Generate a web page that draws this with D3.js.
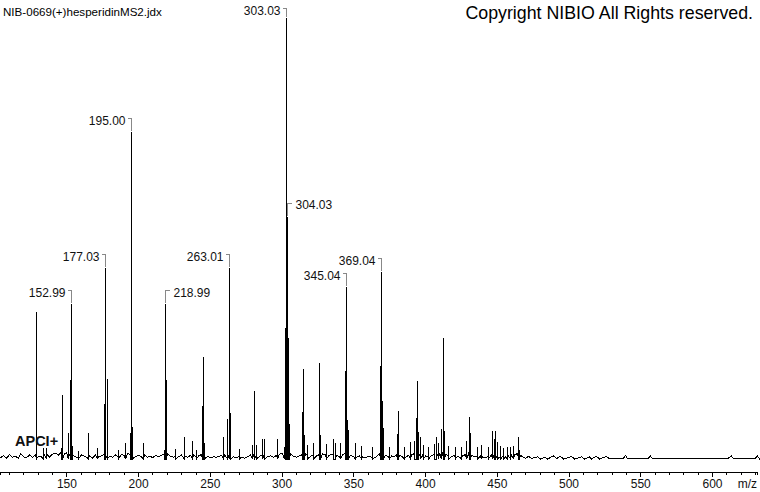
<!DOCTYPE html>
<html><head><meta charset="utf-8">
<script src="https://cdn.jsdelivr.net/npm/d3@7"></script>
<style>
html,body{margin:0;padding:0;background:#fff;}
svg{display:block;font-family:"Liberation Sans",Arial,sans-serif;}
</style></head>
<body>
<svg id="chart" width="760" height="492"></svg>
<script>
// ---- data ----
const titleText = "NIB-0669(+)hesperidinMS2.jdx";
const copyrightText = "Copyright NIBIO All Rights reserved.";
const ionText = "APCI+";
const axisTitle = "m/z";
const tickLabels = [150, 200, 250, 300, 350, 400, 450, 500, 550, 600];
const minorTicks = [110,120,130,140,150,160,170,180,190,200,210,220,230,240,250,260,270,280,290,300,310,320,330,340,350,360,370,380,390,400,410,420,430,440,450,460,470,480,490,500,510,520,530,540,550,560,570,580,590,600,610,620,630];

// labelled peaks: m/z, relative intensity (%), label side
const labelMz = [152.99, 177.03, 195.00, 218.99, 263.01, 303.03, 304.03, 345.04, 369.04];
const labelInt = [35.1, 43.3, 74.1, 35.1, 43.3, 100, 54.9, 39.0, 42.4];
const labelSide = ["L", "L", "L", "R", "L", "L", "R", "L", "L"];

// other peaks (m/z, relative intensity %)
const peakMz = [128.7, 129.1, 133.8, 135.5, 146.2, 147.0, 151.1, 152.5, 153.6, 158.0, 165.1, 171.0,
  176.5, 178.5, 186.0, 190.9, 194.4, 196.0, 203.4, 218.2, 219.6, 226.0, 231.8, 237.6, 240.5, 244.5, 245.2, 246.2,
  259.5, 261.6, 264.0, 270.0, 279.5, 280.7, 282.0, 286.5, 288.0, 297.0, 301.5, 302.2, 304.8, 305.4,
  314.3, 314.9, 315.6, 318.0, 322.0, 326.4, 327.0, 331.0, 336.0, 337.2, 341.0, 344.5, 345.8, 346.5,
  351.0, 355.0, 363.0, 368.3, 370.3, 370.9, 375.0, 380.5, 381.1, 385.0, 389.5, 392.5, 393.5, 394.4, 395.2,
  396.5, 398.5, 402.0, 406.0, 407.5, 409.0, 410.8, 412.5, 413.5, 416.0, 421.0, 425.0, 428.5, 430.5, 431.2,
  436.0, 439.0, 444.0, 446.5, 448.0, 449.0, 450.0, 452.5, 454.5, 457.0, 459.5, 461.5, 464.6, 465.5];
const peakInt = [27.0, 33.3, 2.5, 2.4, 2.5, 14.5, 5.9, 17.9, 3.0, 1.8, 5.9, 2.5,
  12.5, 18.1, 2.0, 3.6, 6.0, 7.3, 3.6, 2.0, 17.9, 2.2, 5.0, 4.1, 2.0, 12.0, 23.1, 3.6,
  5.0, 9.1, 10.4, 2.2, 3.2, 15.4, 3.2, 4.5, 4.5, 4.5, 2.7, 29.7, 27.4, 8.0,
  10.7, 20.4, 5.4, 3.2, 3.6, 21.8, 5.4, 3.4, 4.5, 3.6, 3.6, 20.0, 8.8, 6.6,
  3.6, 2.9, 2.7, 21.1, 13.2, 7.0, 2.7, 5.7, 10.9, 2.7, 3.9, 4.1, 9.3, 17.7, 6.1,
  5.0, 3.2, 2.7, 3.4, 5.0, 3.6, 6.8, 27.4, 6.3, 2.9, 2.7, 2.7, 4.1, 9.5, 5.9,
  2.7, 3.2, 2.7, 6.3, 4.5, 6.3, 3.9, 2.9, 2.5, 2.7, 2.7, 2.9, 5.0, 2.0];

// baseline noise (m/z, relative intensity %), including small bumps beyond 470
const noise = [[104,0.3],[106,0.8],[108,0.2],[110,1.0],[112,0.4],[114,0.6],[116,0.2],[118,1.2],[120,0.5],[122,0.3],
[124,0.9],[126,0.4],[128,1.0],[130,0.6],[132,0.5],[134,1.4],[136,1.2],[138,0.4],[140,1.1],[142,1.3],[144,0.9],
[146,1.6],[148,1.2],[150,1.4],[152,1.2],[154,0.8],[156,0.5],[158,0.3],[160,0.9],[162,0.6],[164,0.4],[166,0.7],
[168,0.2],[170,1.0],[172,0.5],[174,0.7],[176,1.2],[178,1.0],[180,0.6],[182,0.4],[184,0.9],[186,0.5],[188,1.1],
[190,0.7],[192,1.3],[194,1.0],[196,1.2],[198,0.6],[200,0.8],[202,0.5],[204,0.9],[206,0.4],[208,0.6],[210,0.3],
[212,0.8],[214,0.5],[216,0.9],[218,1.0],[220,1.2],[222,0.6],[224,0.4],[226,0.7],[228,0.5],[230,0.9],[232,0.6],
[234,0.4],[236,0.8],[238,0.9],[240,0.5],[242,0.7],[244,1.0],[246,1.1],[248,0.6],[250,0.3],[252,0.5],[254,0.4],
[256,0.6],[258,0.8],[260,1.0],[262,1.2],[264,1.1],[266,0.5],[268,0.3],[270,0.6],[272,0.4],[274,0.2],[276,0.5],
[278,0.9],[280,1.0],[282,0.8],[284,0.6],[286,1.0],[288,1.2],[290,0.5],[292,0.7],[294,0.4],[296,0.8],[298,1.1],
[300,1.3],[302,1.5],[304,1.8],[306,1.2],[308,0.6],[310,0.4],[312,0.7],[314,1.0],[316,1.2],[318,0.8],[320,0.6],
[322,1.0],[324,0.7],[326,1.0],[328,1.2],[330,0.9],[332,0.7],[334,1.0],[336,1.1],[338,0.8],[340,0.6],[342,0.9],
[344,1.4],[346,1.2],[348,0.8],[350,0.6],[352,0.4],[354,0.7],[356,0.5],[358,0.3],[360,0.6],[362,0.4],[364,0.2],
[366,0.5],[368,1.2],[370,1.4],[372,0.8],[374,0.5],[376,0.7],[378,0.6],[380,1.0],[382,0.8],[384,0.5],[386,0.4],
[388,0.8],[390,1.0],[392,1.2],[394,1.4],[396,1.2],[398,0.9],[400,0.7],[402,0.5],[404,0.8],[406,1.0],[408,1.2],
[410,1.4],[412,1.5],[414,1.1],[416,0.7],[418,0.5],[420,0.8],[422,0.6],[424,0.4],[426,0.7],[428,1.0],[430,1.2],
[432,0.8],[434,0.6],[436,0.4],[438,0.7],[440,0.5],[442,0.3],[444,0.6],[446,1.0],[448,1.2],[450,0.9],[452,0.6],
[454,0.8],[456,0.5],[458,0.7],[460,0.9],[462,1.0],[464,1.2],[466,0.8],[468,0.4],[470,0.2],
[472,0.6],[474,0.1],[478,0.5],[480,0.0],[483,0.4],[485,0.0],[489,0.7],[491,0.1],[494,0.6],[496,0.0],
[500,0.4],[502,0.6],[504,0.0],[509,0.5],[511,0.0],[514,0.5],[516,0.0],[519,0.6],[521,0.0],[526,0.6],[528,0.0],
[538,0.2],[539.5,0.8],[541,0.0],[555.5,0.2],[557,0.7],[558.5,0.0],[611.5,0.2],[613,0.7],[614.5,0.0],
[630,0.2],[631.5,0.7],[633,0.0],[640,0]];

// ---- chart ----
const svg = d3.select("#chart");
const x = d3.scaleLinear().domain([150, 600]).range([66.4, 712]);
const y = d3.scaleLinear().domain([0, 100]).range([459, 18]);

// build spectrum trace
const pts = noise.map(d => ({mz: d[0], v: d[1]}));
const addStick = (mz, v) => { pts.push({mz, v: 0}); pts.push({mz, v}); pts.push({mz, v: 0}); };
peakMz.forEach((m, i) => addStick(m, peakInt[i]));
labelMz.forEach((m, i) => addStick(m, labelInt[i]));
const order = pts.map((p, i) => ({p, i}));
order.sort((a, b) => a.p.mz - b.p.mz || a.i - b.i);
const trace = order.map(o => o.p);

const line = d3.line().x(d => Math.round(x(d.mz)) + 0.5).y(d => y(d.v));
svg.append("path")
  .attr("d", line(trace))
  .attr("fill", "none")
  .attr("stroke", "#000")
  .attr("stroke-width", 1)
  .attr("shape-rendering", "crispEdges");

// axis
const xa = x.copy().domain([x.invert(0), x.invert(757)]).range([0, 757]);
const axis = d3.axisBottom(xa)
  .tickValues(minorTicks)
  .tickSizeOuter(0)
  .tickSize(3)
  .tickFormat(d => tickLabels.includes(d) ? d : "");
const ag = svg.append("g").attr("transform", "translate(0,471.5)").call(axis);
ag.select(".domain").attr("stroke", "#000").attr("shape-rendering", "crispEdges");
ag.selectAll(".tick line").attr("stroke", "#000").attr("shape-rendering", "crispEdges")
  .attr("y2", d => tickLabels.includes(d) ? 5 : 3);
ag.selectAll(".tick text")
  .attr("y", 8)
  .attr("font-size", 12)
  .attr("font-family", "Liberation Sans, Arial, sans-serif")
  .attr("fill", "#111");

svg.append("text").attr("x", 757).attr("y", 488).attr("text-anchor", "end")
  .attr("font-size", 12).attr("fill", "#111").text(axisTitle);

// peak labels with brackets
labelMz.forEach((m, i) => {
  const px = Math.round(x(m)) + 0.5;
  const top = y(labelInt[i]);
  const ly = Math.max(top - 12, 10);
  const by = Math.round(ly - 2) + 0.5;
  const g = svg.append("g");
  if (labelSide[i] === "L") {
    g.append("path")
      .attr("d", `M${px - 4},${by}H${px}V${top - 1}`)
      .attr("fill", "none").attr("stroke", "#888").attr("shape-rendering", "crispEdges");
    g.append("text").attr("x", px - 6).attr("y", ly + 4.5).attr("text-anchor", "end")
      .attr("font-size", 12).attr("fill", "#111").text(m.toFixed(2));
  } else {
    g.append("path")
      .attr("d", `M${px + 4},${by}H${px}V${top - 1}`)
      .attr("fill", "none").attr("stroke", "#888").attr("shape-rendering", "crispEdges");
    g.append("text").attr("x", px + 8).attr("y", ly + 4.5).attr("text-anchor", "start")
      .attr("font-size", 12).attr("fill", "#111").text(m.toFixed(2));
  }
});

// texts
svg.append("text").attr("x", 3).attr("y", 16).attr("font-size", 11.6).attr("fill", "#000").text(titleText);
svg.append("text").attr("x", 753).attr("y", 19).attr("text-anchor", "end")
  .attr("font-size", 17.8).attr("fill", "#000").text(copyrightText);
svg.append("text").attr("x", 15).attr("y", 446).attr("font-size", 14.5).attr("font-weight", "bold")
  .attr("fill", "#111").text(ionText);
</script>
</body></html>
